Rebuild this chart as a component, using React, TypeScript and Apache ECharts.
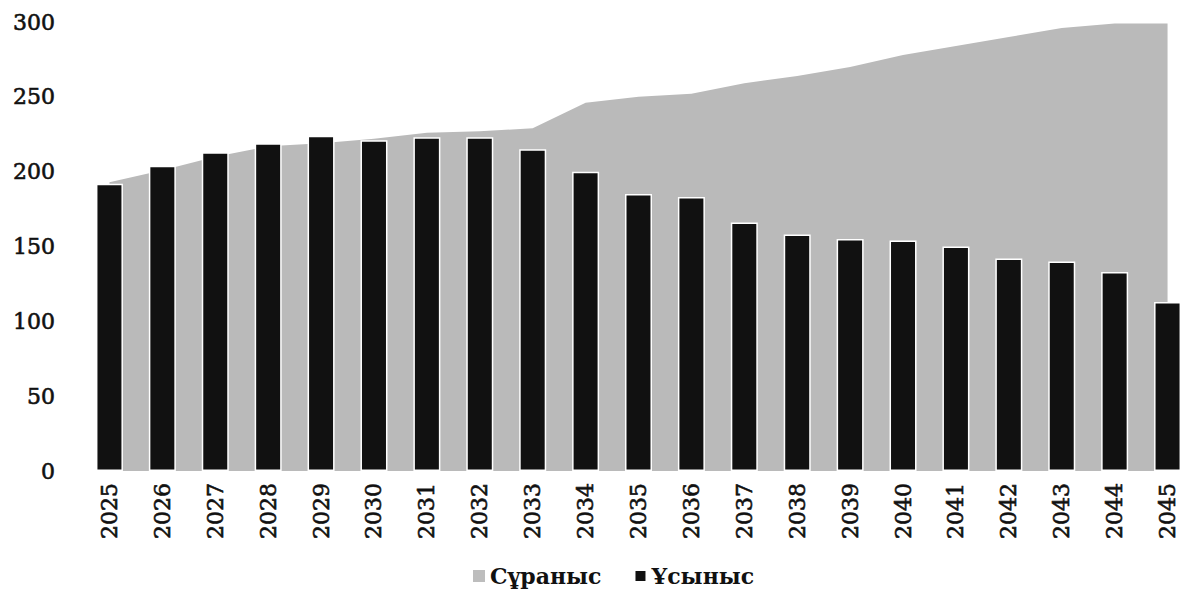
import React, { useEffect, useRef } from "react";
import * as echarts from "echarts";

const years = ["2025","2026","2027","2028","2029","2030","2031","2032","2033","2034","2035","2036","2037","2038","2039","2040","2041","2042","2043","2044","2045"];
const demand = [193, 201, 210, 217, 219, 222, 226, 227, 229, 246, 250, 252, 259, 264, 270, 278, 284, 290, 296, 299, 299];
const supply = [192, 204, 213, 219, 224, 221, 223, 223, 215, 200, 185, 183, 166, 158, 155, 154, 150, 142, 140, 133, 113];
const yTicks = [0, 50, 100, 150, 200, 250, 300];
const seriesNames = ["Сұраныс", "Ұсыныс"];

export default function App() {
  const ref = useRef<HTMLDivElement>(null);
  useEffect(() => {
    if (!ref.current) return;
    const chart = echarts.init(ref.current, null, { renderer: "svg" });
    const font = "'DejaVu Serif', 'Liberation Serif', serif";
    chart.setOption({
      animation: false,
      backgroundColor: "#ffffff",
      grid: { left: 83, right: 0, top: 22, bottom: 125, containLabel: false },
      legend: {
        data: [
          { name: seriesNames[0], itemStyle: { color: "#bdbdbd" } },
          { name: seriesNames[1], itemStyle: { color: "#111111" } },
        ],
        top: 565,
        left: 473,
        padding: 0,
        icon: "rect",
        itemWidth: 12,
        itemHeight: 12,
        itemGap: 32,
        textStyle: { fontFamily: font, fontSize: 22, fontWeight: "bold", color: "#111" },
      },
      xAxis: {
        type: "category",
        data: years,
        boundaryGap: true,
        axisLine: { show: false },
        axisTick: { show: false },
        axisLabel: {
          rotate: 90,
          margin: 12,
          fontFamily: font,
          fontSize: 22,
          color: "#111",
          textBorderColor: "#111",
          textBorderWidth: 0.6,
        },
      },
      yAxis: {
        type: "value",
        min: yTicks[0],
        max: yTicks[yTicks.length - 1],
        interval: 50,
        axisLine: { show: false },
        axisTick: { show: false },
        splitLine: { show: false },
        axisLabel: {
          margin: 28,
          fontFamily: font,
          fontSize: 22,
          color: "#111",
          textBorderColor: "#111",
          textBorderWidth: 0.6,
        },
      },
      series: [
        {
          name: seriesNames[0],
          type: "line",
          data: demand,
          symbol: "none",
          lineStyle: { width: 0 },
          itemStyle: { color: "#bababa" },
          areaStyle: { color: "#bababa", opacity: 1 },
          z: 1,
        },
        {
          name: seriesNames[1],
          type: "bar",
          data: supply,
          barWidth: 27,
          itemStyle: { color: "#111111", borderColor: "#ffffff", borderWidth: 1.5 },
          z: 2,
        },
      ],
    });
    return () => chart.dispose();
  }, []);
  return (
    <div style={{ position: "fixed", left: 0, top: 0, width: 1181, height: 596, overflow: "hidden", background: "#fff" }}>
      <div ref={ref} style={{ width: 1194, height: 596 }} />
    </div>
  );
}
